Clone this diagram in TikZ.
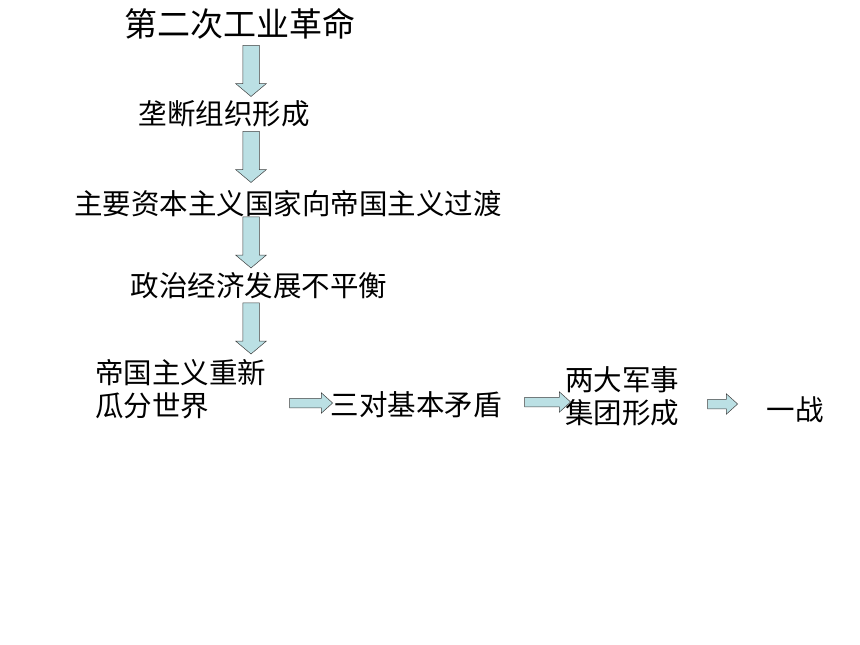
\documentclass[tikz,border=0pt]{standalone}
\usepackage{fontspec}
\setmainfont{Noto Sans CJK SC}
\usetikzlibrary{shapes.arrows}
\definecolor{arrowfill}{RGB}{187,224,228}
\begin{document}
\begin{tikzpicture}[x=1pt, y=-1pt,
    txt/.style={inner sep=0pt, font=\fontsize{28.5}{33}\selectfont},
    blockarrow/.style={shape=single arrow, draw=black!75, fill=arrowfill,
        line width=0.5pt, inner xsep=0pt, minimum width=0pt,
        single arrow head indent=0pt},
    downarrow/.style={blockarrow, rotate=-90, minimum height=51pt,
        inner ysep=8pt, single arrow head extend=7pt, single arrow tip angle=100},
    rightarrow/.style={blockarrow, inner ysep=4.5pt,
        single arrow head extend=5.5pt, single arrow tip angle=84}]
    \useasboundingbox (0,0) rectangle (860,645);
    \node[txt, font=\fontsize{33}{38}\selectfont] (rev) at (240,24) {第二次工业革命};
    \node[txt] (mono) at (224,114) {垄断组织形成};
    \node[txt] (trans) at (288,204) {主要资本主义国家向帝国主义过渡};
    \node[txt] (uneven) at (259,286) {政治经济发展不平衡};
    \node[txt, align=left, anchor=west] (redivide) at (95,389.5) {帝国主义重新\\瓜分世界};
    \node[txt] (three) at (416,405) {三对基本矛盾};
    \node[txt, align=left, anchor=west] (blocs) at (565,396) {两大军事\\集团形成};
    \node[txt] (war) at (795,410) {一战};
    % block arrows between the steps
    \node[downarrow] (a1) at (251,67.5) {};
    \node[downarrow] (a2) at (251,153.5) {};
    \node[downarrow] (a3) at (251,239) {};
    \node[downarrow] (a4) at (251,325) {};
    \node[rightarrow, minimum height=43pt] (h1) at (308.5,403) {};
    \node[rightarrow, minimum height=46pt] (h2) at (545,402) {};
    \node[rightarrow, minimum height=30pt] (h3) at (720,404) {};
\end{tikzpicture}
\end{document}
